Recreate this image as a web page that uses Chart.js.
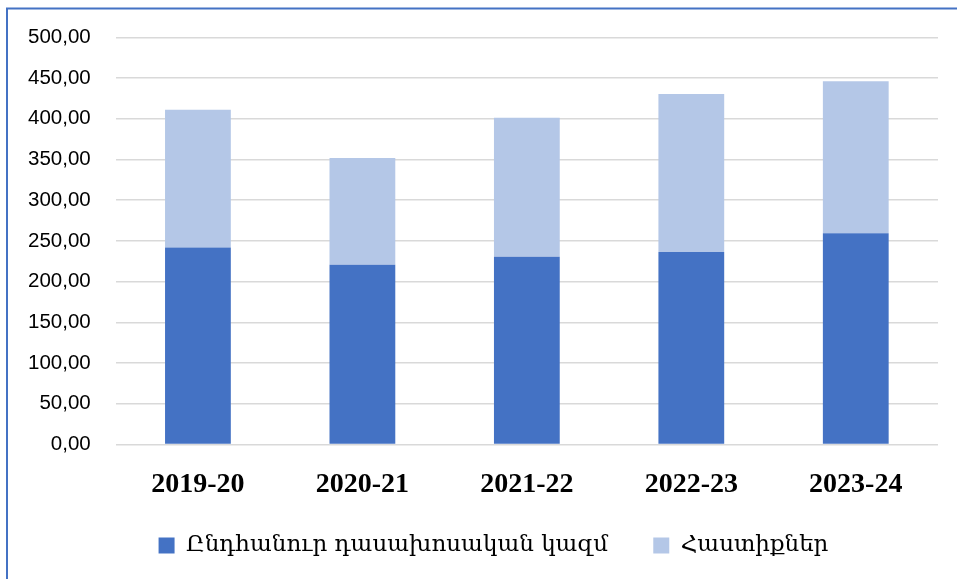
<!DOCTYPE html>
<html>
<head>
<meta charset="utf-8">
<script src="https://cdn.jsdelivr.net/npm/chart.js@4/dist/chart.umd.min.js"></script>
<style>
  html, body { margin: 0; padding: 0; background: #fff; }
  #wrap { width: 957px; height: 579px; position: relative; }
</style>
</head>
<body>
<div id="wrap"><canvas id="myChart" width="957" height="579"></canvas></div>
<script>
const years = ['2019-20', '2020-21', '2021-22', '2022-23', '2023-24'];
const staffLabel = 'Ընդհանուր դասախոսական կազմ';
const staffValues = [241.7, 220.7, 230.6, 236.4, 259.4];
const chairsLabel = 'Հաստիքներ';
const chairsValues = [169.4, 131.2, 170.6, 193.9, 186.6];
const yTicks = [0, 50, 100, 150, 200, 250, 300, 350, 400, 450, 500];

// blue frame on the top and left edge, like the exported picture
const framePlugin = {
    id: 'frame',
    beforeDraw(chart) {
        const c = chart.ctx;
        c.save();
        c.fillStyle = '#fff';
        c.fillRect(0, 0, chart.width, chart.height);
        c.strokeStyle = '#4472C4';
        c.lineWidth = 2;
        c.beginPath();
        c.moveTo(7, chart.height);
        c.lineTo(7, 8.5);
        c.lineTo(chart.width, 8.5);
        c.stroke();
        c.restore();
    },
    afterLayout(chart) {
        // the legend sits a bit right of the canvas centre
        chart.legend.left += 23;
        chart.legend.right += 23;
    }
};

let ctx = document.getElementById('myChart').getContext('2d');

let myChart = new Chart(ctx, {
    type: 'bar',
    data: {
        labels: years,
        datasets: [
            {
                label: staffLabel,
                data: staffValues,
                backgroundColor: '#4472C4'
            },
            {
                label: chairsLabel,
                data: chairsValues,
                backgroundColor: '#B4C7E7'
            }
        ]
    },
    options: {
        responsive: false,
        animation: false,
        layout: { padding: { left: 3, right: 19, top: 30, bottom: 12 } },
        plugins: {
            tooltip: { enabled: false },
            legend: {
                position: 'bottom',
                labels: {
                    boxWidth: 16,
                    boxHeight: 16,
                    padding: 16,
                    color: '#000',
                    font: { family: "'DejaVu Serif', serif", size: 23 },
                    generateLabels(chart) {
                        const items = Chart.defaults.plugins.legend.labels.generateLabels(chart);
                        // wider gap after the first entry
                        items[0].text = items[0].text + '    ';
                        return items;
                    }
                }
            }
        },
        datasets: {
            bar: { barPercentage: 0.4, categoryPercentage: 1 }
        },
        scales: {
            x: {
                stacked: true,
                grid: { display: false },
                border: { display: false },
                ticks: {
                    color: '#000',
                    padding: 16,
                    font: { family: "'Liberation Serif', serif", size: 28, weight: 'bold' }
                }
            },
            y: {
                stacked: true,
                min: 0,
                max: 500,
                afterBuildTicks(axis) {
                    axis.ticks = yTicks.map(v => ({ value: v }));
                },
                grid: { color: '#d9d9d9', lineWidth: 1.5, drawTicks: false },
                border: { display: false },
                ticks: {
                    color: '#000',
                    padding: 25,
                    font: { family: "'Liberation Sans', sans-serif", size: 20.5 },
                    callback: v => v.toFixed(2).replace('.', ',')
                }
            }
        }
    },
    plugins: [framePlugin]
});
</script>
</body>
</html>
